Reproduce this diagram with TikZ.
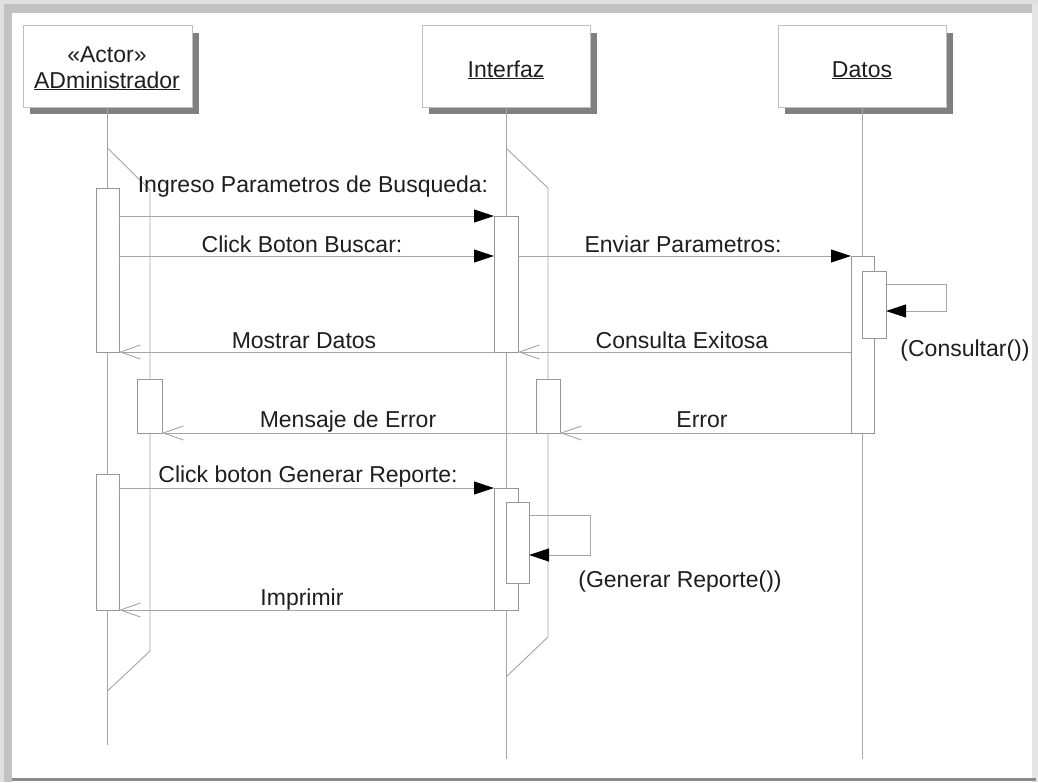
\documentclass[tikz,border=0pt]{standalone}
\usepackage{fontspec}
\setmainfont{Liberation Sans}
\usetikzlibrary{arrows.meta,calc}
\definecolor{lncol}{RGB}{165,165,165}
\definecolor{boxcol}{RGB}{150,150,150}
\definecolor{shcol}{RGB}{128,128,128}
\definecolor{txtcol}{RGB}{30,30,30}
\begin{document}
\begin{tikzpicture}[x=1pt,y=-1pt,
  ln/.style={draw=lncol, line width=0.9pt},
  act/.style={draw=boxcol, line width=0.9pt, fill=white, inner sep=0pt, outer sep=0pt, anchor=north west},
  actorbox/.style={draw=lncol!70, line width=0.9pt, fill=white, inner sep=0pt, outer sep=0pt, anchor=north west, minimum width=169pt, minimum height=82pt},
  lbl/.style={text=txtcol, font=\fontsize{23}{28}\selectfont, inner sep=0pt, anchor=base},
  call/.style={ln, -{Triangle[length=20pt,width=13pt]}, arrows={-{Triangle[length=20pt,width=13pt,fill=black,color=black]}}},
  ret/.style={ln, -{Straight Barb[length=20pt,width=14pt,line width=0.9pt]}}
]
% frame
\useasboundingbox (0,0) rectangle (1038,782);
\fill[white] (0,0) rectangle (1038,782);
\fill[black!12] (0,0) rectangle (12,782);
\fill[black!12] (0,0) rectangle (1038,13);
\fill[black!24] (4,4) rectangle (12,782);
\fill[black!24] (4,4) rectangle (1032,13);
\fill[black!10] (1032,4) rectangle (1038,782);
\fill[black!45] (12,778) rectangle (1036,781);
\fill[white] (12,13) rectangle (1032,778);

% actor boxes
\fill[shcol] (30,33) rectangle (199,114);
\node[actorbox] (admin) at (23,25) {};
\fill[shcol] (429,33) rectangle (597,114);
\node[actorbox, minimum width=168pt] (inter) at (422,25) {};
\fill[shcol] (785,33) rectangle (953,114);
\node[actorbox, minimum width=168pt] (datos) at (778,25) {};

\node[lbl] (adminA) at (107,62) {«Actor»};
\node[lbl] (adminB) at (107,88) {\underline{ADministrador}};
\node[lbl] (interT) at (506,77) {\underline{Interfaz}};
\node[lbl] (datosT) at (862,77) {\underline{Datos}};

% lifelines
\coordinate (adminEnd) at (107.5,745);
\coordinate (interEnd) at (506,759);
\coordinate (datosEnd) at (862,759);
\draw[ln] (admin.south) -- (adminEnd);
\draw[ln] (inter.south) -- (interEnd);
\draw[ln] (datos.south) -- (datosEnd);

% focus outlines
\draw[ln] (107.5,148) -- (150,190) -- (150,651) -- (107.5,691);
\draw[ln] (506,148) -- (548,188) -- (548,637) -- (506,677);

% activations
\node[act, minimum width=23pt, minimum height=164pt] (aA1) at (96,188) {};
\node[act, minimum width=25pt, minimum height=54pt] (aA2) at (137,379) {};
\node[act, minimum width=23pt, minimum height=136pt] (aA3) at (96,474) {};
\node[act, minimum width=24pt, minimum height=136pt] (aI1) at (494,216) {};
\node[act, minimum width=24pt, minimum height=54pt] (aI2) at (536,379) {};
\node[act, minimum width=24pt, minimum height=122pt] (aI3) at (494,488) {};
\node[act, minimum width=23pt, minimum height=81pt] (aI4) at (506,502) {};
\node[act, minimum width=23pt, minimum height=177pt] (aD1) at (851,256) {};
\node[act, minimum width=24pt, minimum height=67pt] (aD2) at (862,271) {};

% messages
\tikzset{fa/.style={ln, -{Triangle[length=20pt,width=13pt,color=black,fill=black]}}}
\draw[fa] (aA1.east |- aI1.north) -- (aI1.north west);
\draw[fa] (aA1.east |- aD1.north) -- (aI1.west |- aD1.north);
\draw[fa] (aI1.east |- aD1.north) -- (aD1.north west);
\draw[ret] (aI1.south west) -- (aA1.south east);
\draw[ret] (aD1.west |- aI1.south) -- (aI1.south east);
\draw[ret] (aI2.south west) -- (aA2.south east);
\draw[ret] (aD1.south west) -- (aI2.south east);
\draw[fa] (aA3.east |- aI3.north) -- (aI3.north west);
\draw[ret] (aI3.south west) -- (aA3.south east);
% self calls
\draw[fa] ($(aD2.north east)+(0,13)$) -- ++(60,0) -- ++(0,27) -- ($(aD2.north east)+(0,40)$);
\draw[fa] ($(aI4.north east)+(0,13)$) -- ++(61,0) -- ++(0,40) -- ($(aI4.north east)+(0,53)$);

% labels
\node[lbl] (l1) at (313,192) {Ingreso Parametros de Busqueda:};
\node[lbl] (l2) at (302,252) {Click Boton Buscar:};
\node[lbl] (l3) at (683,252) {Enviar Parametros:};
\node[lbl] (l4) at (304,348) {Mostrar Datos};
\node[lbl] (l5) at (682,348) {Consulta Exitosa};
\node[lbl] (l6) at (348,427) {Mensaje de Error};
\node[lbl] (l7) at (702,427) {Error};
\node[lbl] (l8) at (308,482) {Click boton Generar Reporte:};
\node[lbl] (l9) at (302,605) {Imprimir};
\node[lbl] (l10) at (965,356) {(Consultar())};
\node[lbl] (l11) at (680,587) {(Generar Reporte())};
\end{tikzpicture}
\end{document}
